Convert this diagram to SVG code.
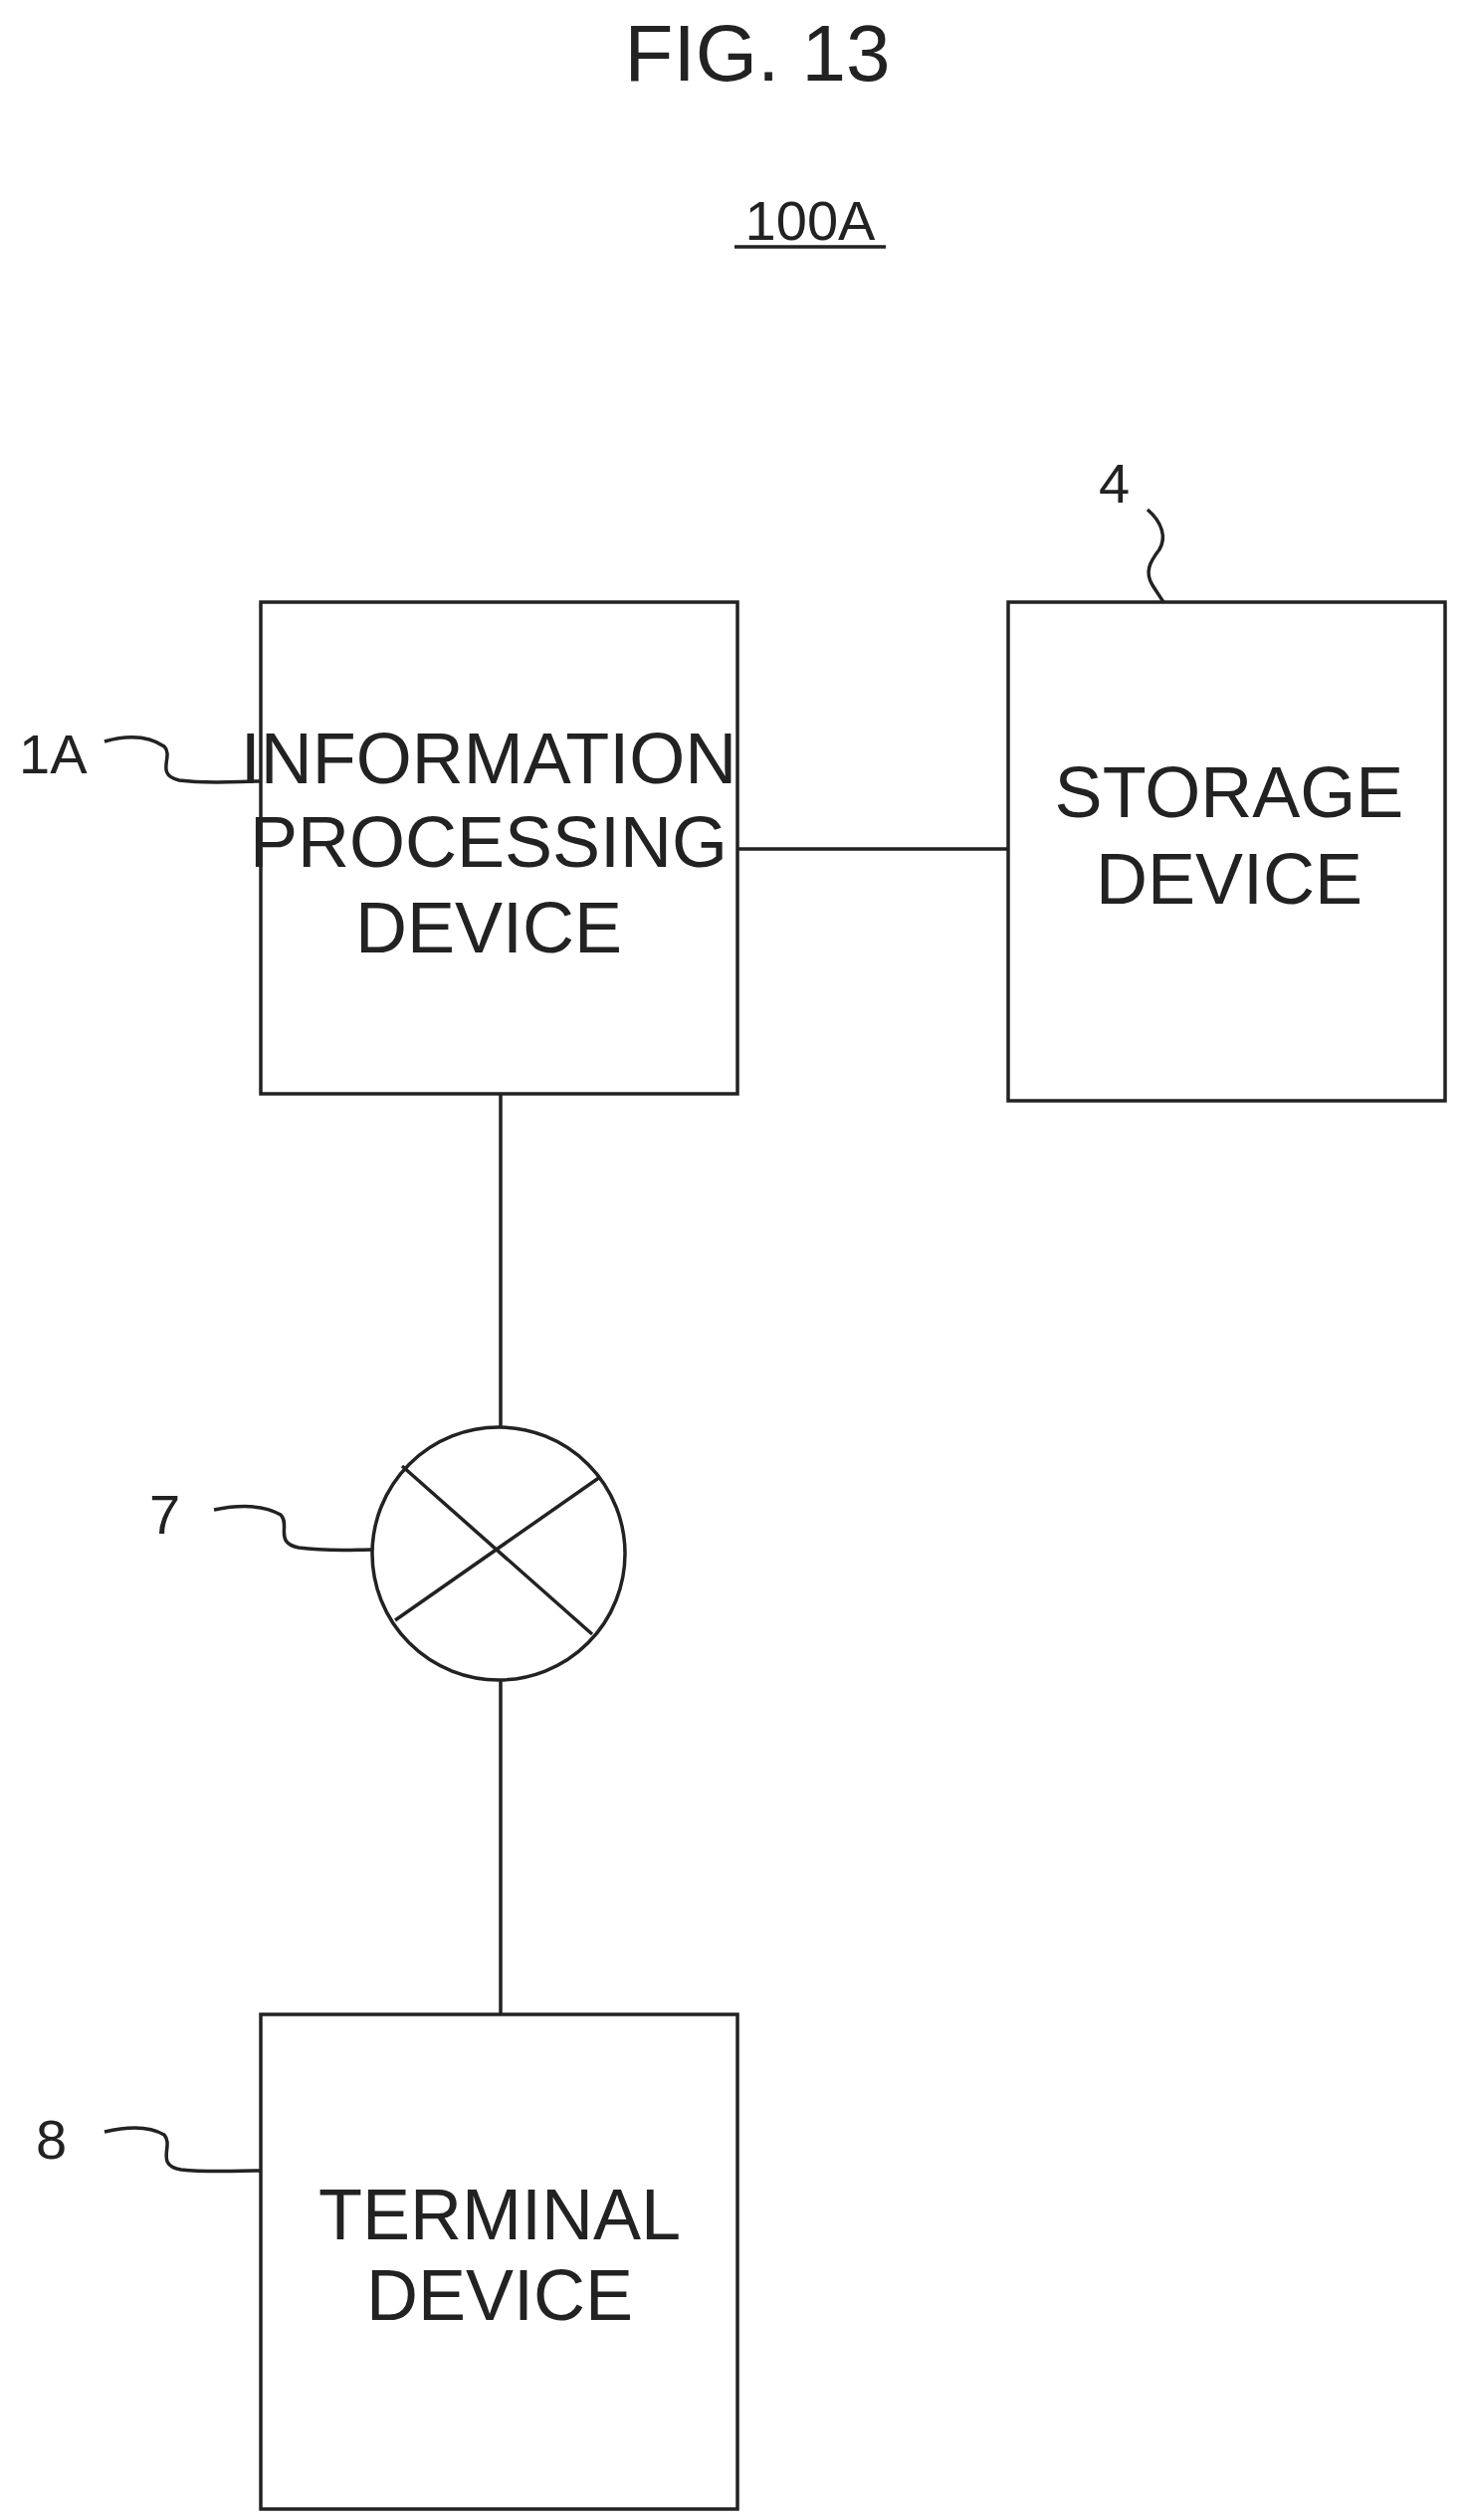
<svg xmlns="http://www.w3.org/2000/svg" width="1473" height="2532" viewBox="0 0 1473 2532">
<style>
.b{fill:none;stroke:#222;stroke-width:3.5}
.t{font-family:"Liberation Sans",Arial,sans-serif;fill:#222;text-anchor:middle}
.l{font-size:72px}
.r{font-family:"Liberation Sans",Arial,sans-serif;fill:#222;font-size:56px}
</style>
<rect width="1473" height="2532" fill="#fff"/>
<text class="t" x="761" y="81" font-size="80">FIG. 13</text>
<text class="t" x="814" y="241" font-size="56">100A</text>
<line class="b" x1="738" y1="248" x2="890" y2="248"/>
<g id="connectors">
<line class="b" x1="741" y1="853" x2="1013" y2="853"/>
<line class="b" x1="503" y1="1099" x2="503" y2="1434"/>
<line class="b" x1="503" y1="1688" x2="503" y2="2024"/>
</g>
<g id="n1A">
<rect class="b" x="262" y="605" width="479" height="494"/>
<text class="t l" x="491" y="787">INFORMATION</text>
<text class="t l" x="491" y="871">PROCESSING</text>
<text class="t l" x="491" y="957">DEVICE</text>
<text class="r" x="19" y="777">1A</text>
<path class="b" d="M105,745 C130,738 150,740 165,750 C175,760 155,778 180,784 C210,788 240,785 262,785"/>
</g>
<g id="n4">
<rect class="b" x="1013" y="605" width="439" height="501"/>
<text class="t l" x="1235" y="821">STORAGE</text>
<text class="t l" x="1235" y="908">DEVICE</text>
<text class="r" x="1104" y="505">4</text>
<path class="b" d="M1153,512 C1168,525 1172,540 1165,552 C1155,565 1150,575 1158,588 C1163,596 1166,600 1169,605"/>
</g>
<g id="n7">
<circle class="b" cx="501" cy="1561" r="127"/>
<line class="b" x1="404" y1="1473" x2="595" y2="1642"/>
<line class="b" x1="603" y1="1484" x2="397" y2="1628"/>
<text class="r" x="150" y="1541">7</text>
<path class="b" d="M215,1517 C240,1512 265,1512 282,1522 C292,1532 275,1550 300,1555 C330,1559 355,1557 374,1557"/>
</g>
<g id="n8">
<rect class="b" x="262" y="2024" width="479" height="497"/>
<text class="t l" x="502" y="2250">TERMINAL</text>
<text class="t l" x="502" y="2331">DEVICE</text>
<text class="r" x="36" y="2169">8</text>
<path class="b" d="M105,2142 C130,2136 150,2136 165,2145 C175,2156 155,2175 182,2180 C210,2183 240,2181 262,2181"/>
</g>
</svg>
